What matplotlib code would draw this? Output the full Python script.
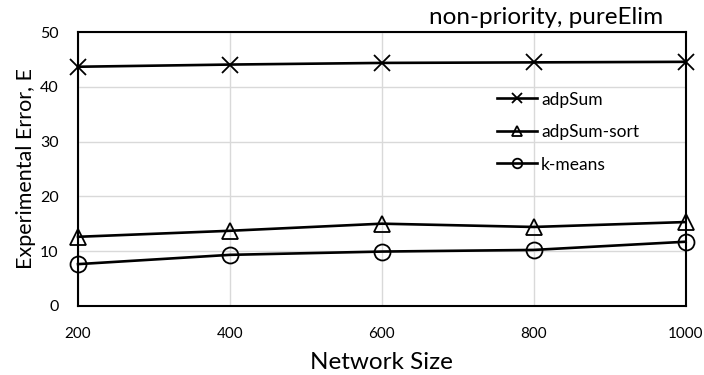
import matplotlib
matplotlib.use("Agg")
import matplotlib.pyplot as plt

plt.rcParams['font.family'] = ['Lato', 'DejaVu Sans']

sizes = [200, 400, 600, 800, 1000]
adp_sum = [43.7, 44.1, 44.4, 44.5, 44.6]
adp_sum_sort = [12.6, 13.7, 15.0, 14.4, 15.3]
kmeans = [7.6, 9.3, 9.9, 10.2, 11.7]

fig = plt.figure(figsize=(7.04, 3.75), dpi=100)
ax = fig.add_axes([78/704, 1-305.7/375, (685.7-78)/704, (305.7-32.3)/375])

style = dict(color='black', lw=1.9, ms=11.5, mew=1.3, fillstyle='none')
l1, = ax.plot(sizes, adp_sum, marker='x', label='adpSum', **style)
l2, = ax.plot(sizes, adp_sum_sort, marker='^', label='adpSum-sort', **style)
l3, = ax.plot(sizes, kmeans, marker='o', label='k-means', **style)
for l in (l1, l2, l3):
    l.set_clip_on(False)

ax.set_xlim(200, 1000)
ax.set_ylim(0, 50)
ax.set_xticks(sizes)
ax.set_yticks([0, 10, 20, 30, 40, 50])
ax.grid(True, color='#d9d9d9', lw=1)
ax.set_axisbelow(True)
ax.tick_params(length=0, labelsize=11.5)
ax.tick_params(axis='x', pad=15, labelsize=11)
ax.tick_params(axis='y', pad=14)
for s in ax.spines.values():
    s.set_linewidth(1.5)

ax.set_xlabel('Network Size', fontsize=17.5, labelpad=8)
ax.set_ylabel('Experimental Error, E', fontsize=15.5, labelpad=3)
fig.text(546/704, 1-18/375, 'non-priority, pureElim', fontsize=17.5,
         ha='center', va='center')

leg = ax.legend(loc='upper left', bbox_to_anchor=(0.675, 0.815), frameon=False,
                fontsize=12.5, markerscale=0.6, handlelength=2.3,
                handletextpad=0.25, labelspacing=0.95, borderpad=0)

fig.savefig('out.png', dpi=100)
